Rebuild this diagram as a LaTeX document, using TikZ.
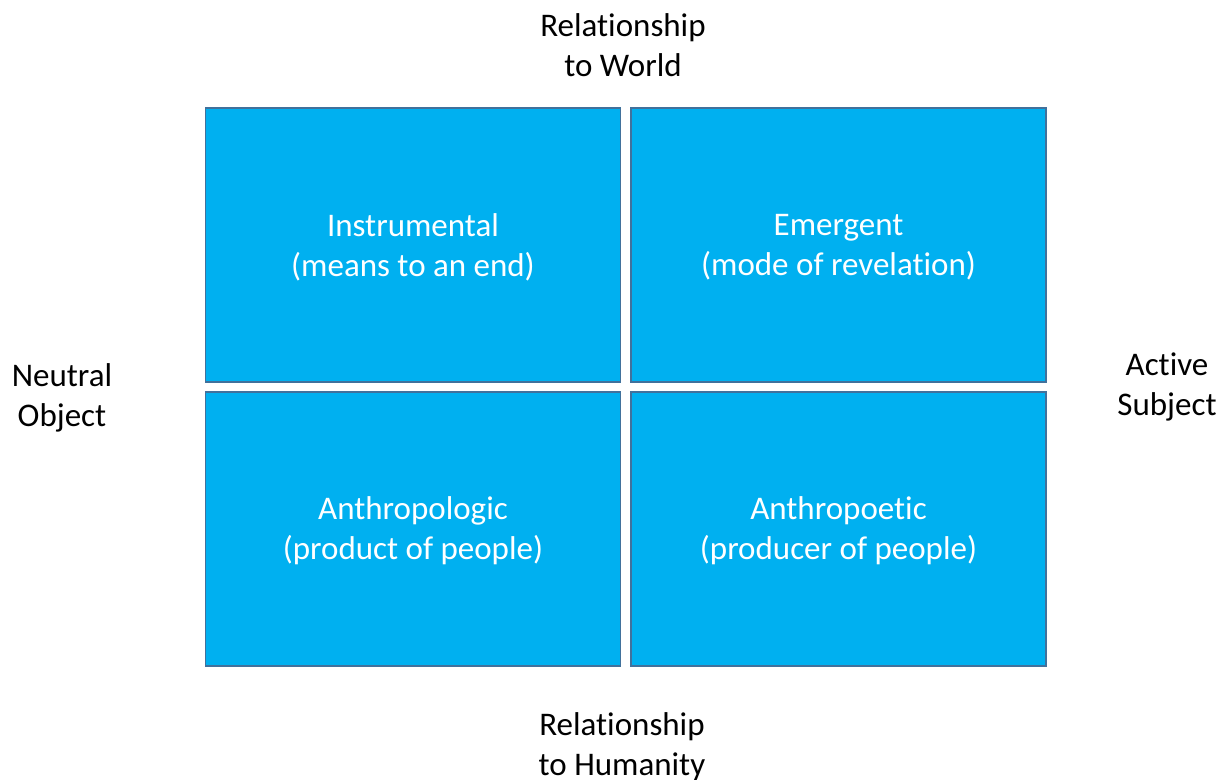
\documentclass[tikz,border=0pt]{standalone}
\usepackage{fontspec}
\setmainfont[Ligatures=NoCommon]{Carlito}
\definecolor{boxfill}{HTML}{00B0F0}
\definecolor{boxline}{HTML}{41719C}
\begin{document}
\begin{tikzpicture}[x=1pt,y=1pt,
  quad/.style={draw=boxline, line width=1.2pt, fill=boxfill, minimum width=415pt, minimum height=274pt, inner sep=0pt, text=white, align=center, font=\fontsize{33}{40}\selectfont},
  lbl/.style={align=center, text=black, font=\fontsize{33}{40}\selectfont, inner sep=0pt}]
\useasboundingbox (0,0) rectangle (1228,779);
\node[quad] (tl) at (413,534) {};
\node[quad] (tr) at (838.5,534) {};
\node[quad] (bl) at (413,250) {};
\node[quad] (br) at (838.5,250) {};
\node[lbl, text=white] at (413,532) {Instrumental\\(means to an end)};
\node[lbl, text=white] at (838.5,532) {Emergent\\(mode of revelation)};
\node[lbl, text=white] at (413,248) {Anthropologic\\(product of people)};
\node[lbl, text=white] at (838.5,248) {Anthropoetic\\(producer of people)};
\node[lbl] (top) at (623,734) {Relationship\\to World};
\node[lbl] (bot) at (622,32) {Relationship\\to Humanity};
\node[lbl] (left) at (62,381) {Neutral\\Object};
\node[lbl] (right) at (1167,392) {Active\\Subject};
\end{tikzpicture}
\end{document}
